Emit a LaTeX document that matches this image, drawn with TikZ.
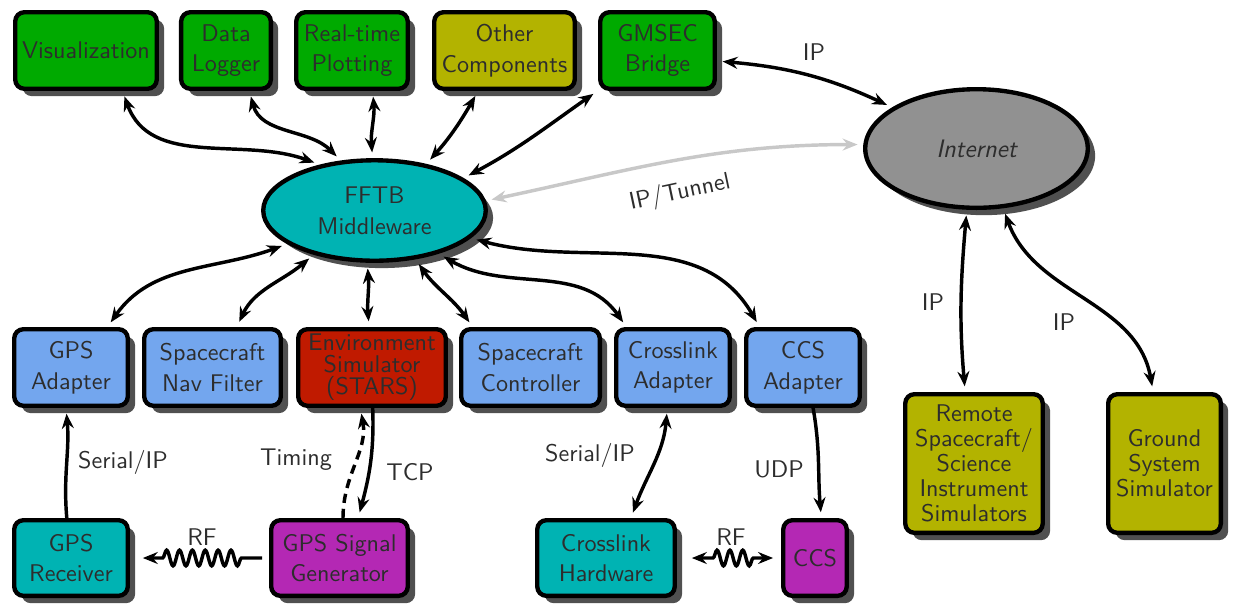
\documentclass[tikz,border=0pt]{standalone}
\usepackage{fontspec}
\usetikzlibrary{arrows.meta,shadows,shapes.geometric,decorations.pathmorphing}

\definecolor{cgreen}{RGB}{0,170,0}
\definecolor{colive}{RGB}{179,179,0}
\definecolor{cteal}{RGB}{0,179,179}
\definecolor{cblue}{RGB}{115,166,238}
\definecolor{cred}{RGB}{192,26,0}
\definecolor{cmag}{RGB}{180,40,180}
\definecolor{cgray}{RGB}{145,145,145}
\definecolor{ctext}{RGB}{45,45,45}
\definecolor{cshadow}{RGB}{80,80,80}
\definecolor{ctunnel}{RGB}{200,200,200}

\newcommand\boxfont{\fontsize{10.5pt}{13.3pt}\selectfont\sffamily}

\begin{document}
\begin{tikzpicture}[x=0.435pt,y=0.435pt,
  shade/.style={drop shadow={shadow xshift=3.2pt,shadow yshift=-3.2pt,fill=cshadow,opacity=1}},
  box/.style={draw=black,line width=1.9pt,rounded corners=4pt,text=ctext,align=center,
    inner sep=0pt,font=\boxfont,shade},
  row/.style={box,minimum height=33.3pt},
  low/.style={box,minimum height=32.9pt},
  tall/.style={box,minimum height=60.3pt,font=\fontsize{10.5pt}{10.9pt}\selectfont\sffamily},
  oval/.style={ellipse,draw=black,line width=1.9pt,text=ctext,align=center,inner sep=0pt,
    font=\boxfont,shade},
  >={Stealth[length=6.5pt,width=5.2pt,inset=2.2pt]},
  link/.style={line width=1.5pt,<->,shorten >=2.5pt,shorten <=2.5pt},
  onew/.style={line width=1.5pt,->,shorten >=2.5pt},
  wave/.style={decorate,decoration={snake,amplitude=3.4pt,segment length=5.6pt,#1}},
  lbl/.style={text=ctext,font=\boxfont,inner sep=1pt}
]
\useasboundingbox (0,0) rectangle (1233,-604);

% top row of components
\node[row,fill=cgreen,minimum width=61.6pt] (viz) at (86,-50.5) {Visualization};
\node[row,fill=cgreen,minimum width=39pt] (dl) at (226,-50.5) {Data\\Logger};
\node[row,fill=cgreen,minimum width=48.5pt] (rt) at (352,-50.5) {Real-time\\Plotting};
\node[row,fill=colive,minimum width=61.1pt] (oc) at (504.5,-50.5) {Other\\Components};
\node[row,fill=cgreen,minimum width=49.8pt] (gm) at (657.5,-50.5) {GMSEC\\Bridge};

% hubs
\node[oval,fill=cteal,minimum width=96.8pt,minimum height=43.7pt] (fftb) at (374.5,-210.5) {FFTB\\Middleware};
\node[oval,fill=cgray,minimum width=96.8pt,minimum height=51.6pt,
  font=\fontsize{11pt}{13pt}\selectfont\sffamily\itshape] (inet) at (976.5,-148.5) {Internet};

% middle row
\node[row,fill=cblue,minimum width=49.4pt] (gpsa) at (71,-367.5) {GPS\\Adapter};
\node[row,fill=cblue,minimum width=59.4pt] (nav) at (212.5,-367.5) {Spacecraft\\Nav Filter};
\node[row,fill=cred,minimum width=64.2pt,font=\fontsize{10.5pt}{9.6pt}\selectfont\sffamily] (env) at (372,-367.5) {Environment\\Simulator\\(STARS)};
\node[row,fill=cblue,minimum width=60.3pt] (ctrl) at (530.5,-367.5) {Spacecraft\\Controller};
\node[row,fill=cblue,minimum width=49.4pt] (xa) at (673,-367.5) {Crosslink\\Adapter};
\node[row,fill=cblue,minimum width=49.4pt] (ccsa) at (803,-367.5) {CCS\\Adapter};

% bottom row
\node[low,fill=cteal,minimum width=49.4pt] (gpsr) at (71,-558) {GPS\\Receiver};
\node[low,fill=cmag,minimum width=59.4pt] (sig) at (339.5,-558) {GPS Signal\\Generator};
\node[low,fill=cteal,minimum width=59.8pt] (xhw) at (606,-558) {Crosslink\\Hardware};
\node[low,fill=cmag,minimum width=27.6pt] (ccs) at (815,-558) {CCS};

% remote side
\node[tall,fill=colive,minimum width=59.8pt] (remote) at (974,-463.5) {Remote\\Spacecraft/\\Science\\Instrument\\Simulators};
\node[tall,fill=colive,minimum width=49pt] (ground) at (1164.5,-463.5) {Ground\\System\\Simulator};

% links between the top row and the middleware
\draw[link] (viz.-48) to[out=-70,in=160] (fftb.140);
\draw[link] (dl.-60) to[out=-75,in=135] (fftb.124);
\draw[link] (rt.-63) to[out=-85,in=95] (fftb.92);
\draw[link] (oc.-123) to[out=-120,in=48] (fftb.42);
\draw[link] (gm.-146) to[out=-145,in=28] (fftb.20);

% network links
\draw[link] (gm.-10) to[out=-5,in=155] (inet.154);
\draw[link,draw=ctunnel] (inet.178) to[out=180,in=12] (fftb.5);
\draw[link] (inet.-99) to[out=-95,in=95] (remote.97);
\draw[link] (inet.-66) to[out=-70,in=100] (ground.99);

% links between the middleware and the middle row
\draw[link] (gpsa.48) to[out=55,in=-160] (fftb.-159);
\draw[link] (nav.59) to[out=65,in=-140] (fftb.-144);
\draw[link] (env.94) to[out=95,in=-85] (fftb.-98);
\draw[link] (ctrl.145) to[out=125,in=-55] (fftb.-50);
\draw[link] (xa.139) to[out=125,in=-30] (fftb.-34);
\draw[link] (ccsa.137) to[out=120,in=-15] (fftb.-16);

% hardware links
\draw[onew] (gpsr.96) to[out=95,in=-85] (gpsa.-97);
\draw[onew,dash pattern=on 4pt off 2.6pt] (sig.85) to[out=90,in=-80] (env.-106);
\draw[onew] (env.-89) to[out=-88,in=75] (sig.65);
\draw[link] (xa.-98) to[out=-95,in=70] (xhw.58);
\draw[onew] (ccsa.-76) to[out=-80,in=95] (ccs.81);

% radio links
\draw[onew,shorten <=3pt,shorten >=5.6pt,wave={pre length=12pt,post length=13pt}]
  (sig.west) -- (gpsr.east);
\draw[link,shorten <=6.5pt,shorten >=3.5pt,wave={pre length=15.7pt,post length=10.4pt}]
  (xhw.east) -- (ccs.west);

% link labels
\node[lbl] (lip1) at (814,-52) {IP};
\node[lbl,rotate=12] (ltun) at (680,-193) {IP/Tunnel};
\node[lbl] (lip2) at (933,-302) {IP};
\node[lbl] (lip3) at (1064,-322) {IP};
\node[lbl] (lser1) at (123,-462) {Serial/IP};
\node[lbl] (ltim) at (296,-460) {Timing};
\node[lbl] (ltcp) at (410,-472) {TCP};
\node[lbl] (lser2) at (590,-455) {Serial/IP};
\node[lbl] (ludp) at (779,-469) {UDP};
\node[lbl] (lrf1) at (202,-537) {RF};
\node[lbl] (lrf2) at (731,-537) {RF};
\end{tikzpicture}
\end{document}
